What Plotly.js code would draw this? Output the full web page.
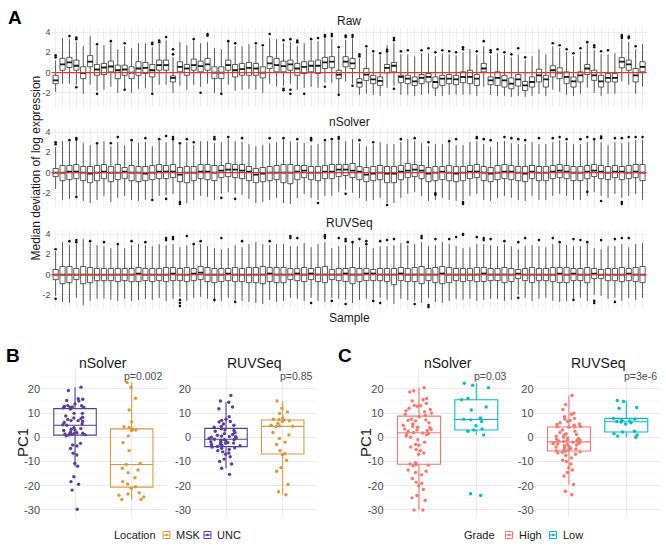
<!DOCTYPE html>
<html><head><meta charset="utf-8">
<script src="https://cdn.plot.ly/plotly-3.0.1.min.js"></script>
<style>html,body{margin:0;padding:0;background:#fff}#chart{width:666px;height:551px}</style>
</head><body><div id="chart"></div>
<script>
// ---------- Panel A : per-sample box statistics ----------
const rawQ3 = [-0.27,1.4,1.5,1.23,0.57,1.67,0.8,0.9,1.13,0.73,
 0.73,0.57,1.07,1.0,0.8,1.23,1.23,-0.33,1.07,0.8,
 1.33,1.13,1.4,0.57,0.57,1.23,0.8,0.9,1.0,0.9,
 0.57,1.57,1.4,1.13,1.23,0.9,1.07,1.13,1.23,1.5,
 1.57,0.23,1.57,1.4,-0.6,0.4,-0.27,-0.43,0.8,1.0,
 -0.27,-0.27,-0.43,-0.2,-0.1,-0.43,-0.27,-0.2,-0.27,0.07,
 0.23,-0.2,0.9,-0.43,0.07,-0.27,-0.53,-0.2,-0.87,-0.43,
 0.33,-0.27,0.67,0.47,0.07,-0.43,0.07,0.8,0.23,-0.27,
 -0.1,-0.1,1.47,1.23,0.4,1.07];
const rawMed = [-0.77,0.8,1.0,0.67,-0.05,1.07,0.3,0.5,0.6,0.23,
 0.3,0,0.4,0.47,0.23,0.73,0.73,-0.53,0.57,0.4,
 0.73,0.63,0.8,0,0,0.73,0.23,0.33,0.47,0.4,
 0,0.9,0.73,0.63,0.8,0.4,0.57,0.67,0.67,1.0,
 1.07,-0.2,1.07,0.9,-1.0,-0.2,-0.67,-0.83,0.47,0.67,
 -0.43,-0.6,-0.87,-0.53,-0.43,-0.93,-0.6,-0.6,-0.67,-0.43,
 -0.43,-0.6,0.4,-0.77,-0.53,-0.77,-1.1,-0.67,-1.27,-0.93,
 -0.27,-0.67,0.23,0,-0.43,-0.87,-0.27,0.4,-0.27,-0.87,
 -0.53,-0.53,1.07,0.8,-0.27,0.57];
const rawQ1 = [-1.1,0.23,0.5,0.23,-0.6,0.57,-0.27,-0.2,0.07,-0.6,
 -0.27,-0.6,-0.27,-0.1,-0.43,0.23,0.23,-0.93,0.07,-0.27,
 0.23,0.07,0.23,-0.6,-0.6,0.23,-0.43,-0.27,-0.27,-0.27,
 -0.53,0.4,0.07,0.07,0.23,-0.27,-0.1,0.07,-0.1,0.4,
 0.47,-0.6,0.57,0.4,-1.43,-0.77,-1.1,-1.27,-0.03,0.07,
 -1.0,-1.1,-1.27,-1.1,-0.93,-1.53,-1.27,-1.1,-1.2,-1.0,
 -1.1,-1.27,0.07,-1.2,-1.27,-1.43,-1.6,-1.33,-1.77,-1.43,
 -0.93,-1.43,-0.43,-0.6,-1.1,-1.43,-0.93,-0.2,-0.77,-1.43,
 -0.93,-0.93,0.47,0.23,-0.93,0.07];
const rawHi = [1.2,3.4,3.3,3.0,2.6,3.6,2.6,2.7,2.9,2.3,
 2.6,2.4,2.9,2.9,2.5,2.8,3.2,1.5,3.0,2.7,
 3.1,2.9,3.0,2.4,2.3,3.0,2.6,2.6,2.8,2.7,
 2.5,3.4,3.3,2.9,3.0,2.6,2.9,3.1,3.1,3.4,
 3.3,2.3,3.2,3.3,1.4,2.4,1.9,1.7,2.7,2.9,
 1.8,1.8,1.6,1.9,1.9,1.6,1.9,1.8,1.7,2.0,
 2.3,1.8,2.6,1.7,1.9,1.7,1.5,1.8,1.2,1.6,
 2.3,1.8,2.6,2.4,2.0,1.6,2.1,2.8,2.2,1.8,
 1.8,1.9,3.2,3.0,2.3,2.8];
const rawLo = [-1.9,-1.1,-1.1,-1.2,-2.1,-1.2,-1.8,-1.7,-1.4,-2.0,
 -1.6,-2.0,-1.6,-1.5,-1.9,-1.2,-1.2,-2.0,-1.3,-1.7,
 -1.2,-1.4,-1.1,-2.0,-2.0,-1.2,-1.8,-1.7,-1.6,-1.7,
 -2.0,-1.1,-1.4,-1.3,-1.1,-1.7,-1.5,-1.4,-1.5,-1.0,
 -1.0,-2.1,-0.9,-1.1,-2.2,-2.1,-2.2,-2.3,-1.5,-1.3,
 -2.2,-2.2,-2.3,-2.2,-2.1,-2.3,-2.3,-2.2,-2.2,-2.2,
 -2.2,-2.3,-1.4,-2.2,-2.3,-2.3,-2.4,-2.3,-2.4,-2.3,
 -2.1,-2.3,-1.7,-1.9,-2.2,-2.3,-2.1,-1.5,-2.0,-2.3,
 -2.1,-2.1,-0.9,-1.2,-2.1,-1.4];
const rawOutIdx = [1,1,3,4,4,4,7,7,9,11,11,15,15,15,16,16,17,18,18,21,22,23,23,25,26,27,30,31,32,34,34,34,35,35,35,36,36,37,38,39,40,40,40,41,41,42,42,43,43,44,44,44,45,45,46,47,48,49,49,50,50,50,51,52,54,55,56,57,58,59,60,60,62,63,64,64,65,66,67,68,69,73,74,75,76,77,78,79,79,80,81,83,83,83,84,84,85];
const rawOutVal = [1.5,1.7,3.6,3.3,3.45,-1.45,2.8,-2.1,3.1,2.9,-1.7,2.8,2.95,-2.1,3.0,3.15,3.5,1.8,2.3,3.3,-2.0,3.65,3.8,-2.1,3.1,2.9,2.9,2.7,3.8,3.2,-1.6,-1.75,3.3,-1.7,-2.1,3.0,3.15,-2.1,3.3,3.4,3.55,3.7,-1.4,3.6,3.8,2.5,-2.2,3.5,3.65,3.5,3.7,-1.3,1.6,1.8,2.6,2.1,1.9,2.1,2.25,3.2,3.4,-1.6,2.1,2.2,2.2,2.4,2.0,2.2,2.1,2.0,2.3,2.5,2.1,3.1,2.0,2.2,2.3,2.0,1.8,2.4,1.5,2.9,2.7,2.3,1.9,2.4,3.0,2.5,2.7,2.1,2.2,3.4,3.55,3.7,3.4,3.55,2.6];

const nsMed = [0,0,0.1,0.1,0,-0.1,0,0.1,0,0,
 0.1,0,0,-0.1,0,0.1,0.1,0.1,-0.2,0,
 0,0.1,0.1,0,0.2,0.3,0.3,0.2,0.1,-0.2,
 -0.1,0,0,0,0,0.1,0.2,0,0,0.1,
 0.1,0.3,0.3,0.2,0.1,-0.2,-0.1,0,-0.1,-0.1,
 0.1,0.2,0.3,0.2,-0.1,0,0.1,0,-0.1,0,
 0.1,0.1,0,-0.1,0,0.1,0.1,0,-0.1,0.1,
 0,0,0.1,0.2,0.1,0,0,0.1,0.2,0.1,
 0,0.1,0.1,0,0.1,0];
const nsQ3 = [0.4,0.7,0.7,0.8,0.6,0.6,0.7,0.8,0.6,0.8,
 0.5,0.7,0.6,0.6,0.7,0.8,0.7,0.8,0.5,0.6,
 0.6,0.8,0.8,0.7,0.7,0.9,0.8,0.8,0.6,0.4,
 0.5,0.6,0.7,0.8,0.8,0.7,0.7,0.6,0.6,0.7,
 0.8,0.8,0.8,0.9,0.6,0.5,0.6,0.7,0.6,0.6,
 0.7,0.9,0.8,0.7,0.5,0.6,0.6,0.7,0.6,0.6,
 0.7,0.8,0.6,0.5,0.7,0.8,0.7,0.6,0.6,0.7,
 0.6,0.6,0.7,0.8,0.7,0.6,0.6,0.7,0.8,0.7,
 0.6,0.7,0.6,0.7,0.8,0.8];
const nsQ1 = [-0.4,-0.8,-0.7,-0.6,-0.8,-1.0,-0.8,-0.6,-0.9,-0.7,
 -0.6,-0.8,-0.9,-0.8,-0.7,-0.6,-0.6,-0.5,-0.9,-1.0,
 -0.8,-0.6,-0.7,-0.8,-0.5,-0.4,-0.5,-0.6,-0.8,-1.0,
 -0.9,-0.8,-0.7,-1.0,-1.1,-0.7,-0.5,-0.7,-0.8,-0.6,
 -0.6,-0.4,-0.3,-0.5,-0.7,-0.9,-0.8,-0.7,-1.0,-1.0,
 -0.7,-0.5,-0.4,-0.6,-0.9,-0.8,-0.7,-0.8,-0.9,-0.8,
 -0.6,-0.5,-0.8,-0.9,-0.7,-0.6,-0.7,-0.8,-0.9,-0.6,
 -0.8,-0.8,-0.6,-0.5,-0.6,-0.8,-0.8,-0.6,-0.4,-0.6,
 -0.7,-0.5,-0.7,-0.6,-0.5,-0.8];
const nsHi = [2.5,3.1,3.0,3.1,2.9,2.7,2.8,3.1,2.6,3.0,
 2.7,3.0,2.9,3.0,2.6,3.1,3.0,3.2,2.8,3.0,
 2.7,3.1,3.1,2.9,3.0,3.3,3.1,3.0,2.8,2.6,
 2.7,2.9,3.0,3.2,3.1,3.0,2.9,2.7,2.8,3.0,
 3.1,3.2,3.1,3.3,2.9,2.6,2.8,3.0,2.8,2.8,
 3.0,3.3,3.1,2.9,2.6,2.8,2.8,3.0,2.7,2.7,
 3.0,3.1,2.8,2.5,3.0,3.1,2.9,2.8,2.8,3.0,
 2.8,2.8,3.0,3.2,3.0,2.8,2.8,3.0,3.2,3.0,
 2.7,3.0,2.9,3.0,3.2,3.2];
const nsLo = [-1.6,-2.7,-2.6,-2.2,-2.8,-3.0,-2.7,-2.3,-2.9,-2.5,
 -2.3,-2.7,-2.8,-2.7,-2.5,-2.3,-2.2,-2.1,-2.8,-3.0,
 -2.7,-2.3,-2.4,-2.7,-2.1,-1.9,-2.1,-2.2,-2.6,-3.0,
 -2.9,-2.7,-2.5,-3.0,-3.1,-2.5,-2.1,-2.5,-2.7,-2.3,
 -2.3,-1.9,-1.7,-2.0,-2.5,-2.8,-2.7,-2.5,-3.0,-3.0,
 -2.5,-2.1,-1.9,-2.3,-2.8,-2.7,-2.5,-2.7,-2.8,-2.7,
 -2.3,-2.1,-2.7,-2.8,-2.5,-2.3,-2.5,-2.7,-2.8,-2.3,
 -2.7,-2.7,-2.3,-2.1,-2.3,-2.7,-2.7,-2.3,-1.9,-2.3,
 -2.5,-2.1,-2.5,-2.3,-2.1,-2.7];
const nsOutIdx = [1,1,3,4,4,4,7,9,10,12,14,15,16,17,17,18,18,19,19,19,20,21,24,24,25,26,27,28,32,34,36,38,38,39,40,41,42,42,43,45,47,49,51,53,55,56,56,58,59,60,60,62,62,63,64,66,67,68,69,71,73,74,75,77,78,78,79,80,80,80,82,83,83,83,84,85,86];
const nsOutVal = [2.8,3.0,3.2,3.25,3.4,-2.4,2.9,2.9,3.5,3.2,3.4,-2.7,3.3,3.6,-2.6,3.3,3.5,2.9,-2.9,-3.1,3.3,3.0,3.3,3.5,-2.5,3.5,-2.6,3.4,3.4,3.4,3.3,3.2,3.4,-3.0,3.2,3.3,3.5,3.35,-2.1,3.2,3.0,-3.2,3.3,3.4,3.0,-2.2,-2.05,3.1,3.3,-2.9,-3.1,3.4,3.5,3.3,3.2,3.5,3.4,3.3,3.2,3.4,3.4,3.5,3.3,3.3,3.5,-1.9,3.3,3.4,3.55,-2.8,3.4,3.4,-2.9,-3.1,3.5,3.5,3.5];

const rvMed = [0,0,0,0,0,0,0,0,0,0,
 0,0,0.1,0,0,0,0,0.1,0,0,
 0.1,0.2,0,0,0,0.1,0,0,0,0,
 0,0.1,0,0,0,0.1,0,0.1,0,0,
 0,0,0.1,0,0,0.1,0.1,0,0,0,
 0.1,0,0,0,0,0,0.1,0,0,0,
 0,0,0.1,0,0,0,0,0.1,0,0,
 0,0,0,0.1,0,0.1,0,0,0.1,0,
 0,0,0,0.1,0,0];
const rvQ3 = [0.5,0.8,0.8,0.6,0.8,0.7,0.6,0.6,0.6,0.6,
 0.6,0.6,0.7,0.6,0.6,0.6,0.7,0.7,0.6,0.7,
 0.6,0.8,0.7,0.6,0.6,0.6,0.7,0.6,0.7,0.7,
 0.8,0.7,0.7,0.7,0.6,0.6,0.7,0.6,0.7,0.8,
 0.5,0.6,0.6,0.7,0.6,0.6,0.5,0.6,0.6,0.6,
 0.7,0.6,0.7,0.8,0.6,0.7,0.8,0.7,0.6,0.6,
 0.6,0.7,0.7,0.6,0.6,0.7,0.6,0.5,0.6,0.7,
 0.6,0.6,0.7,0.7,0.7,0.6,0.6,0.7,0.6,0.5,
 0.6,0.6,0.7,0.6,0.7,0.8];
const rvQ1 = [-0.5,-0.9,-0.8,-0.5,-0.9,-0.8,-0.6,-0.6,-0.6,-0.7,
 -0.6,-0.7,-0.7,-0.6,-0.7,-0.6,-0.7,-0.6,-0.6,-0.7,
 -0.6,-0.5,-0.7,-0.8,-0.7,-0.6,-0.7,-0.7,-0.8,-0.8,
 -0.9,-0.7,-0.8,-0.8,-0.5,-0.6,-0.7,-0.5,-0.7,-0.8,
 -0.5,-0.6,-0.7,-0.9,-0.7,-0.6,-0.6,-0.6,-0.7,-1.0,
 -0.6,-0.7,-0.7,-0.9,-0.6,-0.8,-0.9,-0.8,-0.6,-0.7,
 -0.6,-0.7,-0.7,-0.6,-0.6,-0.8,-0.7,-0.4,-0.6,-0.8,
 -0.6,-0.6,-0.7,-0.8,-0.8,-0.6,-0.6,-0.8,-0.4,-0.4,
 -0.6,-0.6,-0.7,-0.6,-0.7,-0.8];
const rvHi = [2.3,3.2,2.9,3.0,3.5,3.1,2.9,2.8,2.6,2.9,
 2.6,2.9,3.0,2.9,2.8,3.0,2.9,3.0,2.7,2.9,
 2.8,3.0,2.8,2.6,2.5,2.6,2.9,2.7,3.0,3.2,
 3.0,2.9,3.0,3.0,2.8,2.8,3.1,2.7,3.0,3.2,
 2.6,2.8,2.9,3.1,2.7,2.8,2.6,2.8,2.8,2.9,
 3.1,2.9,3.0,3.2,2.8,2.9,3.2,3.0,2.8,2.6,
 2.7,3.0,3.0,2.9,2.8,3.0,2.8,2.5,2.8,2.9,
 2.8,2.7,3.0,3.0,2.9,2.8,2.8,3.0,2.6,2.5,
 2.8,2.8,3.0,2.7,3.0,3.1];
const rvLo = [-2.1,-2.7,-2.8,-2.3,-3.0,-2.6,-2.4,-2.4,-2.5,-2.6,
 -2.4,-2.6,-2.5,-2.4,-2.5,-2.3,-2.6,-2.4,-2.2,-2.6,
 -2.3,-2.2,-2.4,-2.7,-2.6,-2.3,-2.5,-2.6,-2.7,-2.8,
 -2.9,-2.5,-2.7,-2.6,-2.3,-2.4,-2.6,-2.3,-2.6,-2.7,
 -2.3,-2.4,-2.5,-2.8,-2.5,-2.4,-2.4,-2.3,-2.5,-2.9,
 -2.4,-2.5,-2.6,-2.8,-2.3,-2.7,-2.8,-2.6,-2.4,-2.5,
 -2.4,-2.6,-2.5,-2.4,-2.4,-2.6,-2.5,-2.0,-2.3,-2.6,
 -2.4,-2.3,-2.6,-2.7,-2.6,-2.4,-2.3,-2.6,-2.0,-2.1,
 -2.4,-2.3,-2.6,-2.3,-2.5,-2.3];
const rvOutIdx = [1,1,3,4,4,6,8,10,12,14,17,17,18,18,19,19,19,20,21,22,24,25,27,28,32,35,35,36,38,40,40,40,41,42,43,43,43,44,45,46,46,47,48,48,49,50,52,53,54,54,55,55,56,58,59,60,60,62,63,63,64,66,68,68,69,71,73,74,76,76,77,78,79,79,80,82,82,83,84];
const rvOutVal = [2.5,-2.4,3.3,3.2,3.4,3.3,3.2,3.0,3.3,3.2,3.4,3.6,3.5,3.7,-2.5,-2.8,-3.1,3.8,3.0,3.3,-2.5,3.6,-2.7,3.3,3.3,3.6,3.8,3.6,-2.8,3.6,3.75,3.9,-2.6,3.6,3.3,3.5,-2.9,3.2,3.5,3.0,3.3,-2.6,3.3,-2.8,3.4,3.5,3.2,-2.9,3.6,3.8,-3.0,-3.2,3.5,3.5,3.7,3.9,4.0,3.7,3.4,3.6,3.5,3.3,3.2,-2.3,3.6,3.4,3.6,3.2,3.5,-2.5,3.4,3.2,-2.6,-2.8,3.4,3.5,-2.7,3.6,3.6];

// ---------- Panels B / C : PC1 per sample ----------
const nsUNC = [20.7,19.3,15.9,15.7,15.2,15.0,13.8,13.1,13.0,12.7,12.5,12.4,12.3,12.2,11.7,9.9,9.9,8.8,8.3,8.0,7.7,7.4,6.9,6.9,6.5,6.1,5.5,5.2,5.0,4.0,3.6,3.3,3.0,2.8,2.2,1.9,1.7,1.7,1.4,1.4,1.0,0.6,1.2,1.1,-2.5,-3.2,-3.6,-4.6,-6.6,-7.3,-10.8,-11.9,-16.3,-18.3,-19.4,-21.8,-29.7];
const nsMSK = [22.6,20.7,16.1,11.3,6.3,4.4,4.1,3.3,3.0,2.8,0.6,-2.2,-5.5,-10.8,-11.2,-12.8,-13.5,-14.6,-16.7,-18.3,-19.3,-20.4,-21.1,-22.9,-23.4,-23.9,-24.6,-25.7,-25.7];
const rvUNC = [17.3,15,14.5,12.5,11.8,8.5,7.5,7,6.5,6.3,5.5,5,4.5,4.2,3.5,3,2.8,2.5,2,1.5,1.2,0.8,0.5,0.3,0.2,0,-0.3,-0.5,-0.8,-1,-1,-1.2,-1.5,-1.8,-2,-2.2,-2.4,-2.5,-2.8,-3,-3.3,-3.5,-3.8,-4,-4.3,-4.5,-5,-5.5,-6,-6.5,-7,-8,-9,-10,-11,-12.8,-15.3];
const rvMSK = [15,12,10.5,9.8,8,7.5,7.3,7.1,6.8,6.5,5.8,5,4.7,4.6,4.5,2,1,-0.5,-2,-3,-5.5,-6.8,-7.2,-9.5,-12.5,-14,-19.5,-22.5,-23.7];
const nsHigh = [20.5,19.2,18.7,16,15.5,15,14,13.2,13,12.8,12,11.5,11,10.5,10,9.5,9,8.5,7.5,7.2,7,6.8,6,5.5,5,4.5,4.2,4,3.5,3.3,3,2.8,2.5,2,1.8,1.5,1.2,1,0.5,0,-1,-2,-3,-3.3,-4,-5,-5.5,-6.5,-7,-10.5,-11.8,-11,-11.2,-11.5,-13.5,-14,-14.5,-15.5,-17,-18.5,-19,-20,-21.5,-24,-25,-26,-30,-30];
const nsLow = [22.3,21.5,20.5,16,15.5,12.5,11.3,8,7.5,7.2,6.5,4.8,3.5,3,2.5,1,-23.3,-24];
const rvHigh = [17.3,13.5,11.5,10,9.5,8.5,7.8,7.5,7,6.5,6,5.5,5.3,5,4.5,4.4,4.3,4.2,3,2.5,2,1.5,1.2,1,0.5,0,-0.3,-0.5,-0.8,-1,-1.2,-1.3,-1.5,-1.8,-2,-2,-2.2,-2.5,-2.6,-2.8,-3,-3.2,-3.5,-3.8,-4,-4.3,-4.5,-4.8,-5,-5.3,-5.5,-5.8,-6,-6.2,-6.5,-7,-7.5,-8.5,-9.5,-10,-11,-12.5,-13.5,-14.5,-16,-19.5,-22.3,-23.7];
const rvLow = [15.2,14.8,12.3,12,7.8,7.5,7,6.8,6.5,6.3,6,5.5,2.5,2.2,1.5,1,0.5,0];

const aTickVals = [-2,0,2,4], aTickText = ['-2','0','2','4'];
const pcTickVals = [-30,-20,-10,0,10,20], pcTickText = ['-30','-20','-10','0','10','20'];
const locLabels = ['MSK','UNC'], gradeLabels = ['High','Low'];

const colMSK = '#d99a3a', colUNC = '#574099', colHigh = '#F8766D', colLow = '#00BFC4';
const FONT = 'Liberation Sans, Arial, sans-serif';

// ---------- build ----------
const N = rawMed.length;
const idx = Array.from({length: N}, (_, i) => i + 1);
const traces = [];

function panelA(q1, med, q3, lo, hi, oIdx, oVal, ax) {
  traces.push({type: 'box', x: idx, q1: q1, median: med, q3: q3, lowerfence: lo, upperfence: hi,
    width: 0.75, boxpoints: false, fillcolor: '#ffffff', line: {color: '#333333', width: 0.8},
    whiskerwidth: 0, xaxis: 'x' + ax, yaxis: 'y' + ax, showlegend: false, hoverinfo: 'skip'});
  const mx = [], my = [];
  idx.forEach((v, i) => { mx.push(v - 0.375, v + 0.375, null); my.push(med[i], med[i], null); });
  traces.push({type: 'scatter', mode: 'lines', x: mx, y: my, line: {color: '#1a1a1a', width: 1.8},
    xaxis: 'x' + ax, yaxis: 'y' + ax, showlegend: false, hoverinfo: 'skip'});
  traces.push({type: 'scatter', mode: 'markers', x: oIdx, y: oVal, marker: {color: '#111', size: 2.6},
    xaxis: 'x' + ax, yaxis: 'y' + ax, showlegend: false, hoverinfo: 'skip'});
}
panelA(rawQ1, rawMed, rawQ3, rawLo, rawHi, rawOutIdx, rawOutVal, '');
panelA(nsQ1, nsMed, nsQ3, nsLo, nsHi, nsOutIdx, nsOutVal, '2');
panelA(rvQ1, rvMed, rvQ3, rvLo, rvHi, rvOutIdx, rvOutVal, '3');

function pcBox(vals, pos, name, col, ax) {
  traces.push({type: 'box', y: vals, x0: pos, name: name, width: 0.75, boxpoints: 'all', jitter: 0.85,
    pointpos: 0, marker: {color: col, size: 3.4}, line: {color: col, width: 1.1},
    fillcolor: 'rgba(255,255,255,0)', whiskerwidth: 0, xaxis: 'x' + ax, yaxis: 'y' + ax,
    showlegend: false, hoverinfo: 'skip'});
}
pcBox(nsUNC, 1, 'UNC', colUNC, '4');
pcBox(nsMSK, 2, 'MSK', colMSK, '4');
pcBox(rvUNC, 1, 'UNC', colUNC, '5');
pcBox(rvMSK, 2, 'MSK', colMSK, '5');
pcBox(nsHigh, 1, 'High', colHigh, '6');
pcBox(nsLow, 2, 'Low', colLow, '6');
pcBox(rvHigh, 1, 'High', colHigh, '7');
pcBox(rvLow, 2, 'Low', colLow, '7');

const GRID = '#ebebeb', MINOR = '#f5f5f5';
function aX(anchor) {
  return {domain: [0.0773, 0.9710], range: [0.4, N + 0.6], anchor: anchor, tickmode: 'array', tickvals: idx,
    showticklabels: false, ticks: '', showgrid: true, gridcolor: GRID, gridwidth: 0.8, zeroline: false, showline: false};
}
function aY(dom, anchor) {
  return {domain: dom, range: [-3.4, 4.4], anchor: anchor, tickmode: 'array', tickvals: aTickVals, ticktext: aTickText,
    tickfont: {size: 9, color: '#4d4d4d', family: FONT}, ticks: '', showgrid: true, gridcolor: GRID, gridwidth: 0.8,
    minor: {tickmode: 'array', tickvals: [-3, -1, 1, 3], showgrid: true, gridcolor: MINOR, gridwidth: 0.6},
    zeroline: false, showline: false};
}
function pX(dom, anchor) {
  return {domain: dom, range: [0.4, 2.6], anchor: anchor, tickmode: 'array', tickvals: [1, 2], showticklabels: false,
    ticks: '', showgrid: true, gridcolor: GRID, zeroline: false, showline: false};
}
function pY(anchor) {
  return {domain: [0.0617, 0.3303], range: [-32.9, 28.2], anchor: anchor, tickmode: 'array', tickvals: pcTickVals,
    ticktext: pcTickText, tickfont: {size: 11, color: '#4d4d4d', family: FONT}, ticks: '', showgrid: true, gridcolor: GRID,
    minor: {tickmode: 'array', tickvals: [-25, -15, -5, 5, 15, 25], showgrid: true, gridcolor: MINOR, gridwidth: 0.6},
    zeroline: false, showline: false};
}

const W = 666, H = 551;
const px = v => v / W, py = v => 1 - v / H;
function ann(text, x, y, size, opts) {
  return Object.assign({text: text, x: px(x), y: py(y), xref: 'paper', yref: 'paper', showarrow: false,
    font: {size: size, color: '#1a1a1a', family: FONT}, xanchor: 'center', yanchor: 'middle'}, opts || {});
}
const grey = sz => ({xanchor: 'right', font: {size: sz, color: '#4d4d4d', family: FONT}});

const annotations = [
  ann('<b>A</b>', 15, 18, 19, {font: {size: 19, color: '#000', family: FONT}}),
  ann('<b>B</b>', 13, 355, 19, {font: {size: 19, color: '#000', family: FONT}}),
  ann('<b>C</b>', 345, 355, 19, {font: {size: 19, color: '#000', family: FONT}}),
  ann('Raw', 349, 21, 12),
  ann('nSolver', 349, 122, 12),
  ann('RUVSeq', 349, 223, 12),
  ann('Sample', 349, 318, 12),
  ann('Median deviation of log expression', 35, 168.5, 12, {textangle: -90}),
  ann('nSolver', 103, 363, 14),
  ann('RUVSeq', 254, 363, 14),
  ann('nSolver', 448, 363, 14),
  ann('RUVSeq', 598, 363, 14),
  ann('PC1', 22, 443, 15, {textangle: -90}),
  ann('PC1', 365, 443, 15, {textangle: -90}),
  ann('p=0.002', 164, 376, 10.5, grey(10.5)),
  ann('p=0.85', 315, 376, 10.5, grey(10.5)),
  ann('p=0.03', 509, 376, 10.5, grey(10.5)),
  ann('p=3e-6', 659, 376, 10.5, grey(10.5)),
  // legends
  ann('Location', 158, 535, 11, {xanchor: 'right'}),
  ann(locLabels[0], 174, 535, 11, {xanchor: 'left'}),
  ann(locLabels[1], 215, 535, 11, {xanchor: 'left'}),
  ann('Grade', 497, 535, 11, {xanchor: 'right'}),
  ann(gradeLabels[0], 517, 535, 11, {xanchor: 'left'}),
  ann(gradeLabels[1], 561, 535, 11, {xanchor: 'left'})
];

const redLine = yr => ({type: 'line', xref: (yr === 'y' ? 'x' : 'x' + yr.slice(1)) + ' domain', x0: 0, x1: 1,
  yref: yr, y0: 0, y1: 0, line: {color: '#e8322b', width: 1.2}, layer: 'above'});
function key(cx, cy, col) {
  return [
    {type: 'rect', xref: 'paper', yref: 'paper', x0: px(cx - 3.5), x1: px(cx + 3.5), y0: py(cy + 3.5), y1: py(cy - 3.5),
      line: {color: col, width: 1}, fillcolor: '#fff'},
    {type: 'line', xref: 'paper', yref: 'paper', x0: px(cx - 3.5), x1: px(cx + 3.5), y0: py(cy), y1: py(cy),
      line: {color: col, width: 1}},
    {type: 'circle', xref: 'paper', yref: 'paper', x0: px(cx - 1.3), x1: px(cx + 1.3), y0: py(cy + 1.3), y1: py(cy - 1.3),
      line: {color: col, width: 0}, fillcolor: col}
  ];
}

const layout = {
  width: W, height: H, margin: {l: 0, r: 0, t: 0, b: 0}, paper_bgcolor: '#fff', plot_bgcolor: '#fff',
  font: {family: FONT, color: '#1a1a1a'}, showlegend: false, boxmode: 'overlay',
  xaxis: aX('y'), yaxis: aY([0.8058, 0.9492], 'x'),
  xaxis2: aX('y2'), yaxis2: aY([0.6243, 0.7677], 'x2'),
  xaxis3: aX('y3'), yaxis3: aY([0.4392, 0.5826], 'x3'),
  xaxis4: pX([0.0616, 0.2488], 'y4'), yaxis4: pY('x4'),
  xaxis5: pX([0.2883, 0.4755], 'y5'), yaxis5: pY('x5'),
  xaxis6: pX([0.5775, 0.7668], 'y6'), yaxis6: pY('x6'),
  xaxis7: pX([0.8027, 0.9920], 'y7'), yaxis7: pY('x7'),
  shapes: [redLine('y'), redLine('y2'), redLine('y3')]
    .concat(key(166.5, 535, colMSK), key(207.5, 535, colUNC), key(509, 535, colHigh), key(553, 535, colLow)),
  annotations: annotations
};

Plotly.newPlot('chart', traces, layout, {displayModeBar: false, staticPlot: true});
</script></body></html>
